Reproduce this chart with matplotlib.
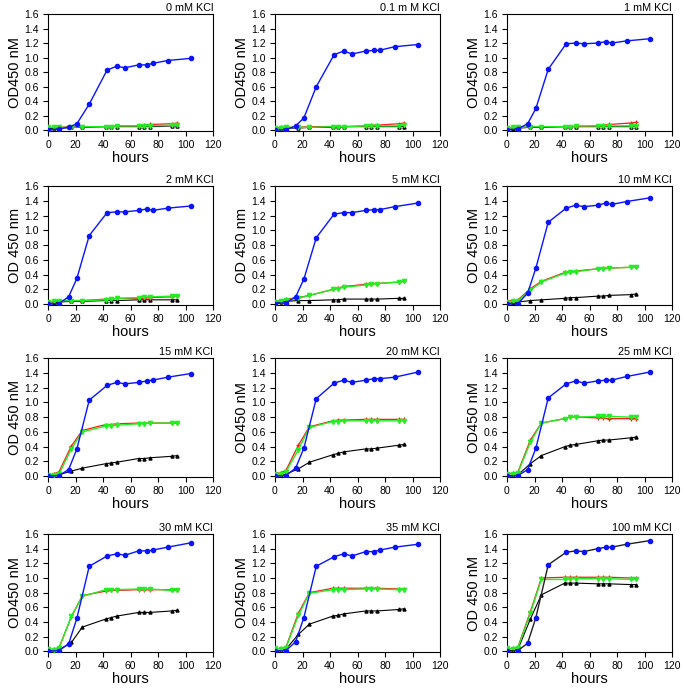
import matplotlib
matplotlib.use("Agg")
import matplotlib.pyplot as plt
import numpy as np
from matplotlib.ticker import FormatStrFormatter

plt.rcParams['font.family'] = ['Liberation Sans', 'DejaVu Sans']

# time points (hours)
t_blue = [0, 8, 15, 21, 30, 43, 50, 56, 66, 72, 76, 87, 104]
t_other = [0, 4, 8, 17, 25, 42, 46, 50, 66, 70, 74, 90, 94]

titles = ["0 mM KCl", "0.1 m M KCl", "1 mM KCl",
          "2 mM KCl", "5 mM KCl", "10 mM KCl",
          "15 mM KCl", "20 mM KCl", "25 mM KCl",
          "30 mM KCl", "35 mM KCl", "100 mM KCl"]
ylabels = ["OD450 nM", "OD450 nM", "OD450 nM",
           "OD 450 nm", "OD 450 nm", "OD 450 nM",
           "OD 450 nM", "OD450 nM", "OD450 nM",
           "OD450 nM", "OD450 nM", "OD 450 nM"]

blue = [
    [0.00, 0.02, 0.04, 0.09, 0.36, 0.83, 0.88, 0.86, 0.90, 0.90, 0.92, 0.96, 0.99],
    [0.00, 0.01, 0.06, 0.17, 0.60, 1.04, 1.09, 1.05, 1.09, 1.10, 1.10, 1.15, 1.18],
    [0.00, 0.02, 0.09, 0.30, 0.84, 1.19, 1.20, 1.19, 1.20, 1.22, 1.20, 1.23, 1.26],
    [0.00, 0.01, 0.10, 0.35, 0.93, 1.24, 1.25, 1.25, 1.27, 1.29, 1.27, 1.30, 1.33],
    [0.01, 0.02, 0.10, 0.34, 0.90, 1.22, 1.24, 1.24, 1.27, 1.28, 1.28, 1.32, 1.37],
    [0.00, 0.01, 0.15, 0.49, 1.11, 1.30, 1.34, 1.32, 1.34, 1.37, 1.35, 1.39, 1.44],
    [0.00, 0.01, 0.09, 0.37, 1.03, 1.23, 1.27, 1.25, 1.27, 1.29, 1.30, 1.34, 1.39],
    [0.00, 0.01, 0.11, 0.38, 1.05, 1.26, 1.30, 1.27, 1.30, 1.32, 1.32, 1.34, 1.41],
    [0.00, 0.01, 0.09, 0.38, 1.06, 1.25, 1.29, 1.26, 1.29, 1.30, 1.30, 1.35, 1.41],
    [0.00, 0.01, 0.10, 0.45, 1.16, 1.30, 1.33, 1.31, 1.37, 1.37, 1.38, 1.42, 1.48],
    [0.00, 0.01, 0.13, 0.46, 1.16, 1.29, 1.33, 1.30, 1.36, 1.36, 1.38, 1.42, 1.46],
    [0.00, 0.01, 0.11, 0.46, 1.18, 1.35, 1.37, 1.36, 1.40, 1.42, 1.42, 1.46, 1.51],
]
red = [
    [0.04, 0.04, 0.04, 0.05, 0.05, 0.05, 0.05, 0.06, 0.06, 0.07, 0.08, 0.09, 0.10],
    [0.03, 0.04, 0.04, 0.04, 0.05, 0.05, 0.05, 0.05, 0.06, 0.07, 0.07, 0.09, 0.10],
    [0.03, 0.04, 0.04, 0.05, 0.05, 0.05, 0.05, 0.05, 0.06, 0.07, 0.08, 0.10, 0.11],
    [0.03, 0.04, 0.04, 0.05, 0.05, 0.07, 0.07, 0.08, 0.08, 0.08, 0.09, 0.10, 0.11],
    [0.04, 0.05, 0.07, 0.09, 0.12, 0.20, 0.22, 0.24, 0.27, 0.28, 0.28, 0.30, 0.31],
    [0.04, 0.05, 0.06, 0.21, 0.31, 0.43, 0.43, 0.45, 0.48, 0.49, 0.49, 0.50, 0.51],
    [0.02, 0.03, 0.06, 0.41, 0.62, 0.70, 0.70, 0.71, 0.72, 0.72, 0.72, 0.72, 0.72],
    [0.03, 0.05, 0.08, 0.42, 0.67, 0.75, 0.76, 0.76, 0.77, 0.77, 0.77, 0.77, 0.77],
    [0.03, 0.04, 0.06, 0.49, 0.72, 0.78, 0.80, 0.80, 0.79, 0.79, 0.78, 0.78, 0.78],
    [0.02, 0.03, 0.05, 0.47, 0.76, 0.82, 0.83, 0.83, 0.84, 0.84, 0.84, 0.84, 0.84],
    [0.03, 0.04, 0.06, 0.52, 0.80, 0.86, 0.86, 0.86, 0.86, 0.86, 0.86, 0.85, 0.85],
    [0.03, 0.04, 0.06, 0.54, 1.00, 1.01, 1.01, 1.01, 1.01, 1.01, 1.01, 1.00, 1.00],
]
green = [
    [0.04, 0.04, 0.04, 0.04, 0.05, 0.05, 0.05, 0.06, 0.06, 0.06, 0.06, 0.07, 0.07],
    [0.03, 0.03, 0.04, 0.04, 0.04, 0.05, 0.05, 0.05, 0.06, 0.06, 0.06, 0.06, 0.07],
    [0.03, 0.04, 0.04, 0.05, 0.05, 0.05, 0.05, 0.06, 0.06, 0.06, 0.06, 0.06, 0.06],
    [0.03, 0.04, 0.05, 0.05, 0.05, 0.06, 0.07, 0.08, 0.09, 0.10, 0.10, 0.11, 0.11],
    [0.03, 0.05, 0.06, 0.08, 0.12, 0.20, 0.21, 0.23, 0.26, 0.27, 0.28, 0.30, 0.31],
    [0.03, 0.04, 0.05, 0.19, 0.30, 0.42, 0.43, 0.44, 0.48, 0.48, 0.49, 0.50, 0.50],
    [0.02, 0.02, 0.03, 0.37, 0.60, 0.68, 0.68, 0.69, 0.71, 0.71, 0.72, 0.72, 0.72],
    [0.03, 0.03, 0.06, 0.36, 0.66, 0.74, 0.74, 0.75, 0.75, 0.75, 0.75, 0.75, 0.75],
    [0.03, 0.03, 0.05, 0.46, 0.72, 0.78, 0.80, 0.80, 0.81, 0.81, 0.81, 0.80, 0.80],
    [0.03, 0.02, 0.04, 0.48, 0.75, 0.84, 0.84, 0.84, 0.85, 0.85, 0.85, 0.83, 0.83],
    [0.04, 0.03, 0.05, 0.49, 0.79, 0.84, 0.84, 0.84, 0.85, 0.85, 0.85, 0.84, 0.84],
    [0.04, 0.03, 0.05, 0.52, 0.98, 0.98, 0.99, 0.99, 0.99, 0.99, 0.99, 0.98, 0.98],
]
black = [
    [0.02, 0.03, 0.03, 0.04, 0.04, 0.05, 0.05, 0.05, 0.05, 0.05, 0.05, 0.06, 0.06],
    [0.02, 0.02, 0.03, 0.03, 0.04, 0.04, 0.04, 0.05, 0.05, 0.05, 0.05, 0.05, 0.05],
    [0.01, 0.02, 0.03, 0.04, 0.04, 0.05, 0.05, 0.05, 0.05, 0.05, 0.05, 0.05, 0.05],
    [0.01, 0.02, 0.03, 0.04, 0.04, 0.05, 0.05, 0.05, 0.06, 0.06, 0.06, 0.06, 0.06],
    [0.02, 0.03, 0.04, 0.05, 0.05, 0.06, 0.06, 0.07, 0.07, 0.07, 0.07, 0.08, 0.08],
    [0.01, 0.02, 0.03, 0.05, 0.06, 0.08, 0.09, 0.09, 0.11, 0.11, 0.12, 0.13, 0.14],
    [0.00, 0.01, 0.02, 0.07, 0.11, 0.17, 0.18, 0.19, 0.24, 0.24, 0.25, 0.27, 0.28],
    [0.00, 0.01, 0.03, 0.10, 0.19, 0.29, 0.31, 0.33, 0.37, 0.37, 0.38, 0.42, 0.43],
    [0.00, 0.01, 0.02, 0.17, 0.28, 0.40, 0.42, 0.43, 0.48, 0.49, 0.49, 0.52, 0.53],
    [0.00, 0.01, 0.02, 0.12, 0.33, 0.44, 0.46, 0.48, 0.53, 0.53, 0.53, 0.55, 0.56],
    [0.00, 0.01, 0.03, 0.23, 0.37, 0.48, 0.49, 0.51, 0.55, 0.55, 0.55, 0.57, 0.58],
    [0.01, 0.01, 0.03, 0.44, 0.77, 0.93, 0.93, 0.93, 0.92, 0.92, 0.92, 0.91, 0.91],
]
# line colour of the blue series per panel (last panel drawn with a dark line)
blue_line = ['#0a14ff'] * 11 + ['#202020']

W, H = 685, 689
fig = plt.figure(figsize=(W / 100, H / 100), dpi=100)

col_left = [48, 275, 507]
row_top = [14, 186, 358, 534]
row_bot = [131, 305, 477, 652]
aw = 165

for i in range(12):
    r, c = divmod(i, 3)
    l = col_left[c]
    t, b = row_top[r], row_bot[r]
    ax = fig.add_axes([l / W, 1 - b / H, aw / W, (b - t) / H])
    ax.plot(t_other, black[i], color='black', lw=0.8, marker='^', ms=2.2, zorder=2)
    ax.plot(t_other, red[i], color='#ff1a1a', lw=0.9, marker='+', ms=3.2, mew=0.9, zorder=3)
    ax.plot(t_other, green[i], color='#22ee22', lw=1.0, marker='v', ms=3.0, zorder=4)
    ax.plot(t_blue, blue[i], color=blue_line[i], lw=1.0, marker='o', ms=3.0,
            mfc='#0a14ff', mec='#0a14ff', zorder=5)
    ax.set_xlim(0, 120)
    ax.set_ylim(-0.01, 1.6)
    ax.set_xticks(np.arange(0, 121, 20))
    ax.set_yticks(np.arange(0, 1.61, 0.2))
    ax.yaxis.set_major_formatter(FormatStrFormatter('%.1f'))
    ax.tick_params(direction='out', length=3.5, width=0.8, labelsize=7.5, pad=3)
    for s in ax.spines.values():
        s.set_linewidth(0.8)
    ax.set_xlabel('hours', fontsize=10.5, labelpad=1)
    ax.set_ylabel(ylabels[i], fontsize=10.5, labelpad=2)
    ax.set_title(titles[i], loc='right', fontsize=7.8, pad=2.5)

fig.savefig('out.png', dpi=100)
